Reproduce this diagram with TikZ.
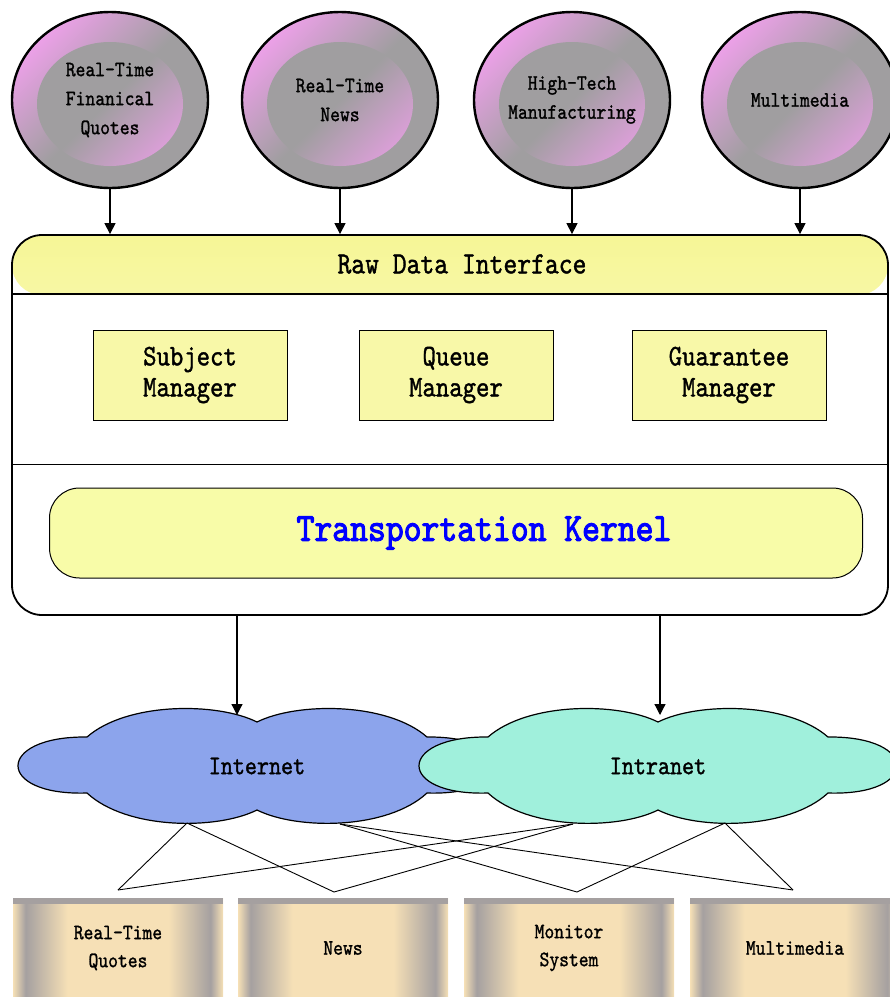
\documentclass[tikz,border=0pt]{standalone}
\usepackage{fontspec}
\newfontfamily\diagfont{lmmono10-regular.otf}[FakeStretch=0.85, FakeBold=1.2]
\newfontfamily\kernfont{lmmono10-regular.otf}[FakeStretch=0.85, FakeBold=2.5]
\usetikzlibrary{arrows.meta,shapes.geometric}
\definecolor{ringpink}{RGB}{236,160,232}
\definecolor{ringgray}{RGB}{160,158,160}
\definecolor{headyellow}{RGB}{246,246,150}
\definecolor{mgryellow}{RGB}{248,248,168}
\definecolor{kernyellow}{RGB}{248,252,168}
\definecolor{inetblue}{RGB}{140,164,236}
\definecolor{intragreen}{RGB}{160,240,220}
\definecolor{tilewheat}{RGB}{246,224,182}
\definecolor{tilegray}{RGB}{165,160,160}
\pgfdeclarehorizontalshading{tileshade}{100bp}{color(0bp)=(tilewheat); color(25bp)=(tilewheat);
  color(28bp)=(tilegray); color(38bp)=(tilewheat); color(62bp)=(tilewheat);
  color(72bp)=(tilegray); color(75bp)=(tilewheat); color(100bp)=(tilewheat)}
\tikzset{
  srcring/.style={ellipse, draw, line width=2.4pt, minimum width=196pt, minimum height=176pt,
    inner sep=0pt, align=center, top color=ringpink, bottom color=ringgray, middle color=ringgray,
    shading angle=45, font=\diagfont\fontsize{22}{29}\selectfont,
    path picture={\shade[top color=ringgray, bottom color=ringpink, middle color=ringgray, shading angle=45]
      ([yshift=-4pt]path picture bounding box.center) ellipse [x radius=73pt, y radius=62pt];}},
  mgrbox/.style={rectangle, draw, line width=1pt, fill=mgryellow, minimum width=194pt,
    minimum height=90pt, align=center, font=\diagfont\fontsize{30}{31}\selectfont},
  kernbox/.style={rectangle, draw, line width=1pt, rounded corners=30pt, fill=kernyellow,
    minimum width=813pt, minimum height=90pt, text=blue,
    font=\kernfont\fontsize{40}{40}\selectfont},
  tile/.style={rectangle, minimum width=210pt, minimum height=100pt, align=center,
    shading=tileshade, font=\diagfont\fontsize{22}{28}\selectfont,
    path picture={\fill[tilegray] (path picture bounding box.north west)
      rectangle ([yshift=-6pt]path picture bounding box.north east);}},
  netlabel/.style={font=\diagfont\fontsize{27}{27}\selectfont},
  feed/.style={-{Triangle[width=11pt,length=11pt]}, line width=1.2pt},
  fanline/.style={line width=0.9pt},
  cloudline/.style={draw, line width=1.2pt}
}
\begin{document}
\begin{tikzpicture}[x=1pt, y=-1pt]
  \clip (0,0) rectangle (890,997);
  % data sources
  \node[srcring] (src1) at (110,100) {Real-Time\\Finanical\\Quotes};
  \node[srcring] (src2) at (340,100) {Real-Time\\News};
  \node[srcring] (src3) at (572,100) {High-Tech\\Manufacturing};
  \node[srcring] (src4) at (800,100) {Multimedia};
  % interface box
  \node[rectangle, draw, line width=1.8pt, rounded corners=30pt, minimum width=876pt,
    minimum height=380pt,
    path picture={\shade[top color=headyellow, bottom color=yellow!6]
      (path picture bounding box.north west) rectangle ([yshift=-60pt]path picture bounding box.north east);}]
    (rawbox) at (450,425) {};
  \draw[line width=2pt] ([yshift=-60pt]rawbox.north west) -- ([yshift=-60pt]rawbox.north east);
  \draw[line width=1.2pt] ([yshift=-230pt]rawbox.north west) -- ([yshift=-230pt]rawbox.north east);
  \node[netlabel, font=\diagfont\fontsize{31}{31}\selectfont] (rawhead) at (462,264) {Raw Data Interface};
  \foreach \i in {1,...,4}
    \draw[feed] (src\i.south) -- (src\i.south |- rawbox.north);
  \node[mgrbox] (subj) at (190,375) {Subject\\Manager};
  \node[mgrbox] (queue) at (456,375) {Queue\\Manager};
  \node[mgrbox] (guar) at (729,375) {Guarantee\\Manager};
  \node[kernbox] (kern) at (456,533) {\hspace*{56pt}Transportation Kernel};
  % networks
  \foreach \cx/\cc in {257/inetblue, 658/intragreen}
    \path[cloudline, fill=\cc, shift={(\cx,766)}]
      (-170,-29) .. controls (-130,-64) and (-40,-64) .. (0,-44)
      .. controls (40,-64) and (130,-64) .. (170,-29)
      .. controls (262,-30) and (262,30) .. (170,27)
      .. controls (130,64) and (40,64) .. (0,44)
      .. controls (-40,64) and (-130,64) .. (-170,27)
      .. controls (-262,30) and (-262,-30) .. (-170,-29) -- cycle;
  \node[netlabel] (inet) at (257,766) {Internet};
  \node[netlabel] (intra) at (658,766) {Intranet};
  \coordinate (inettop) at (237,715);
  \coordinate (intratop) at (660,715);
  \draw[feed] (rawbox.south -| inettop) -- (inettop);
  \draw[feed] (rawbox.south -| intratop) -- (intratop);
  % clients
  \node[tile] (qtile) at (118,948) {Real-Time\\Quotes};
  \node[tile] (newstile) at (343,948) {News};
  \node[tile] (montile) at (569,948) {Monitor\\System};
  \node[tile] (multile) at (795,948) {Multimedia};
  \coordinate (inetA) at (187,823);
  \coordinate (inetB) at (340,824);
  \coordinate (intraC) at (573,824);
  \coordinate (intraD) at (725,823);
  \coordinate (qtop) at (118,890);
  \coordinate (newstop) at (334,892);
  \coordinate (montop) at (577,892);
  \coordinate (multop) at (793,890);
  \begin{scope}[fanline]
    \draw (inetA) -- (qtop);
    \draw (inetA) -- (newstop);
    \draw (inetB) -- (montop);
    \draw (inetB) -- (multop);
    \draw (intraC) -- (qtop);
    \draw (intraC) -- (newstop);
    \draw (intraD) -- (montop);
    \draw (intraD) -- (multop);
  \end{scope}
\end{tikzpicture}
\end{document}
